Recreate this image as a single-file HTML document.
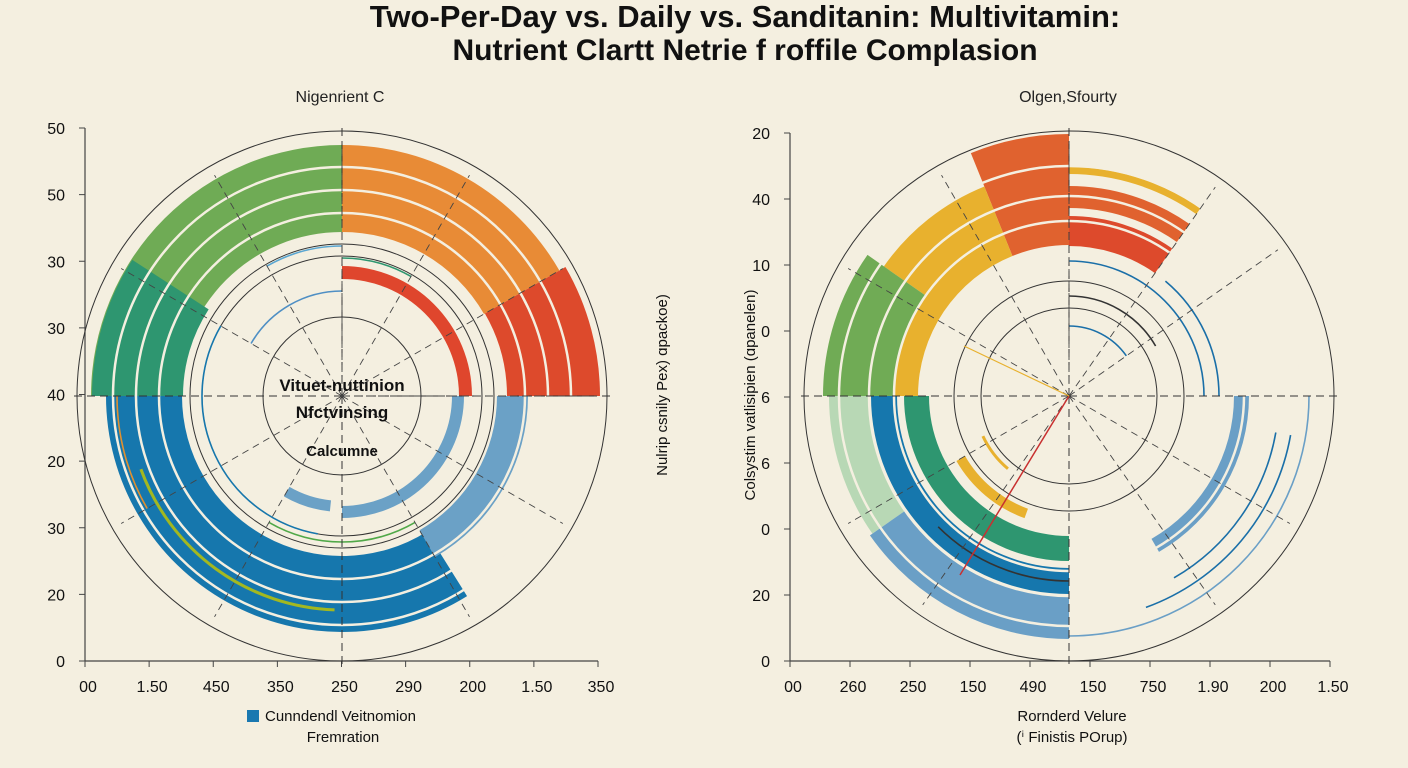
<!DOCTYPE html>
<html><head><meta charset="utf-8"><style>
html,body{margin:0;padding:0;background:#f4efe0;}
svg{display:block;font-family:"Liberation Sans",sans-serif;}
</style></head><body>
<svg id="chart" width="1408" height="768" viewBox="0 0 1408 768">
<rect width="1408" height="768" fill="#f4efe0"/>
<text x="745" y="27" font-size="31" font-weight="bold" text-anchor="middle" fill="#111">Two-Per-Day vs. Daily vs. Sanditanin: Multivitamin:</text>
<text x="745" y="60" font-size="30" font-weight="bold" text-anchor="middle" fill="#111">Nutrient Clartt Netrie f roffile Complasion</text>
<text x="340" y="102" font-size="16" text-anchor="middle" fill="#222">Nigenrient C</text>
<text x="1068" y="102" font-size="16" text-anchor="middle" fill="#222">Olgen,Sfourty</text>
<text transform="translate(667,385) rotate(-90)" font-size="15" text-anchor="middle" fill="#111">Nulrip csnily Pex) ɑpackoe)</text>
<text transform="translate(755,395) rotate(-90)" font-size="15" text-anchor="middle" fill="#111">Colsystim vatlisipien (ɑpanelen)</text>
<rect x="247" y="710" width="12" height="12" fill="#1a78b0"/>
<text x="265" y="721" font-size="15" fill="#111">Cunndendl Veitnomion</text>
<text x="343" y="742" font-size="15" text-anchor="middle" fill="#111">Fremration</text>
<text x="1072" y="721" font-size="15" text-anchor="middle" fill="#111">Rornderd Velure</text>
<text x="1072" y="742" font-size="15" text-anchor="middle" fill="#111">(ⁱ Finistis POrup)</text>
<g id="left"></g>
<g id="right"></g>
</svg>
<script>
// Left chart data
const leftYTicks = ["50","50","30","30","40","20","30","20","0"];
const leftXTicks = ["00","1.50","450","350","250","290","200","1.50","350"];
const leftSegStart = [-90, 0, 60, -90, 148, 90, 0, 90, 186];
const leftSegEnd   = [0, 60, 90, -57, 270, 150, 90, 180, 210];
const leftSegInner = [164, 164, 165, 159, 160, 155, 117, 110, 105];
const leftSegOuter = [251, 251, 258, 250, 236, 186, 130, 122, 116];
const leftSegColor = ["#6fab55","#e88b36","#dd4a2c","#2e9670","#1677ad","#6ba1c6","#df462d","#6ba1c6","#6ba1c6"];
const leftRings = [79, 140, 152, 265];
const leftThinStart = [-60, 0, -30, 190, 240, 150, 182];
const leftThinEnd = [0, 30, 0, 300, 270, 210, 250];
const leftThinR = [105, 138, 150, 140, 225, 146, 214];
const leftThinColor = ["#4f8fc4","#2e9670","#5aa6d1","#1677ad","#e09030","#50a848","#a3b820"];
const leftDash = [0, 30, 60, 90, 120, 150, 210, 240, 300, 330];

// Right chart data
const rightYTicks = ["20","40","10","0","6","6","0","20","0"];
const rightXTicks = ["00","260","250","150","490","150","750","1.90","200","1.50"];
const rightSegStart = [-22, -90, -55, -90, 0, 0, 0, 235, 180, 180, 180, 90, 200];
const rightSegEnd   = [0, -22, -22, -55, 35, 35, 35, 270, 270, 235, 270, 150, 240];
const rightSegInner = [151, 151, 175, 175, 222, 188, 150, 200, 172, 200, 140, 165, 120];
const rightSegOuter = [262, 175, 226, 246, 229, 210, 180, 240, 198, 243, 165, 180, 130];
const rightSegColor = ["#e0622f","#e8b12e","#e8b12e","#70ab55","#e8b12e","#e0622f","#dd4a2c","#b8d8b5","#1677ad","#6a9fc6","#2e9670","#6a9fc6","#e8b12e"];
const rightRings = [88, 115, 265];
const rightThinStart = [0, 0, 40, 100, 0, 100, 90, 180, 220];
const rightThinEnd = [90, 60, 90, 150, 55, 160, 180, 225, 245];
const rightThinR = [135, 100, 150, 210, 70, 225, 240, 185, 95];
const rightThinColor = ["#1a6fa8","#333","#1a6fa8","#1a6fa8","#1a6fa8","#1a6fa8","#6a9fc6","#333","#e8b12e"];
const rightDash = [0, 35, 55, 120, 145, 215, 240, 300, 330];

const NS = "http://www.w3.org/2000/svg";
function mk(tag, attrs, parent){const e=document.createElementNS(NS,tag);for(const k in attrs)e.setAttribute(k,attrs[k]);parent.appendChild(e);return e;}
function pt(cx,cy,r,deg){const a=deg*Math.PI/180;return [cx+r*Math.sin(a), cy-r*Math.cos(a)];}
function arcPath(cx,cy,r0,r1,a0,a1){
  const large=(a1-a0)>180?1:0;
  const p1=pt(cx,cy,r1,a0),p2=pt(cx,cy,r1,a1),p3=pt(cx,cy,r0,a1),p4=pt(cx,cy,r0,a0);
  return `M${p1}A${r1},${r1} 0 ${large} 1 ${p2}L${p3}A${r0},${r0} 0 ${large} 0 ${p4}Z`;
}
function linePath(cx,cy,r,a0,a1){const large=(a1-a0)>180?1:0;return `M${pt(cx,cy,r,a0)}A${r},${r} 0 ${large} 1 ${pt(cx,cy,r,a1)}`;}

function drawChart(g,cx,cy,axisX0,axisX1,yTop,yBot,yT,xT,S,E,I,O,C,rings,ts,te,tr,tc,dash,white){
  let e=mk('line',{x1:axisX0,y1:yTop,x2:axisX0,y2:yBot,stroke:'#444','stroke-width':1.2},g);
  
  e=mk('line',{x1:axisX0,y1:yBot,x2:axisX1,y2:yBot,stroke:'#444','stroke-width':1.2},g);
  
  yT.forEach((t,i)=>{const y=yTop+(yBot-yTop)*i/(yT.length-1);
    mk('line',{x1:axisX0-6,y1:y,x2:axisX0,y2:y,stroke:'#444'},g);
    const tx=mk('text',{x:axisX0-20,y:y+6,'font-size':16,'text-anchor':'end',fill:'#111'},g);tx.textContent=t;
    });
  xT.forEach((t,i)=>{const x=axisX0+(axisX1-axisX0)*i/(xT.length-1);
    mk('line',{x1:x,y1:yBot,x2:x,y2:yBot+6,stroke:'#444'},g);
    const tx=mk('text',{x:x+3,y:yBot+31,'font-size':16,'text-anchor':'middle',fill:'#111'},g);tx.textContent=t;
    });
  S.forEach((s,i)=>{const p=mk('path',{d:arcPath(cx,cy,I[i],O[i],s,E[i]),fill:C[i]},g);
    });
  white.forEach(r=>{mk('circle',{cx:cx,cy:cy,r:r,fill:'none',stroke:'#f4efe0','stroke-width':2.5},g);});
  rings.forEach(r=>{const c=mk('circle',{cx:cx,cy:cy,r:r,fill:'none',stroke:'#333','stroke-width':1},g);
    });
  ts.forEach((s,i)=>{const p=mk('path',{d:linePath(cx,cy,tr[i],s,te[i]),fill:'none',stroke:tc[i],'stroke-width':i==ts.length-1?3:1.6},g);
    });
  [0,90,180,270].forEach(a=>{const p=pt(cx,cy,268,a);mk('line',{x1:cx,y1:cy,x2:p[0],y2:p[1],stroke:'#333','stroke-width':1,'stroke-dasharray':'8 5'},g);});
  dash.forEach(a=>{const p=pt(cx,cy,255,a);const l=mk('line',{x1:cx,y1:cy,x2:p[0],y2:p[1],stroke:'#444','stroke-width':0.9,'stroke-dasharray':'7 5'},g);
    });
}
drawChart(document.getElementById('left'),342,396,85,598,128,661,leftYTicks,leftXTicks,leftSegStart,leftSegEnd,leftSegInner,leftSegOuter,leftSegColor,leftRings,leftThinStart,leftThinEnd,leftThinR,leftThinColor,leftDash,[183,206,229]);
drawChart(document.getElementById('right'),1069,396,790,1330,133,661,rightYTicks,rightXTicks,rightSegStart,rightSegEnd,rightSegInner,rightSegOuter,rightSegColor,rightRings,rightThinStart,rightThinEnd,rightThinR,rightThinColor,rightDash,[175,200,230]);
const L=document.getElementById('left');
[["Vituet-nuttinion",342,391,17],["Nfctvinsing",342,418,17],["Calcumne",342,456,15]].forEach(t=>{
  const e=mk('text',{x:t[1],y:t[2],'font-size':t[3],'font-weight':'bold','text-anchor':'middle',fill:'#111'},L);e.textContent=t[0];
  });
const R=document.getElementById('right');
let rl=mk('line',{x1:1069,y1:396,x2:960,y2:575,stroke:'#c83030','stroke-width':1.5},R);

let yl=mk('line',{x1:1069,y1:396,x2:964,y2:346,stroke:'#e8b12e','stroke-width':1.2},R);

</script>
</body></html>
